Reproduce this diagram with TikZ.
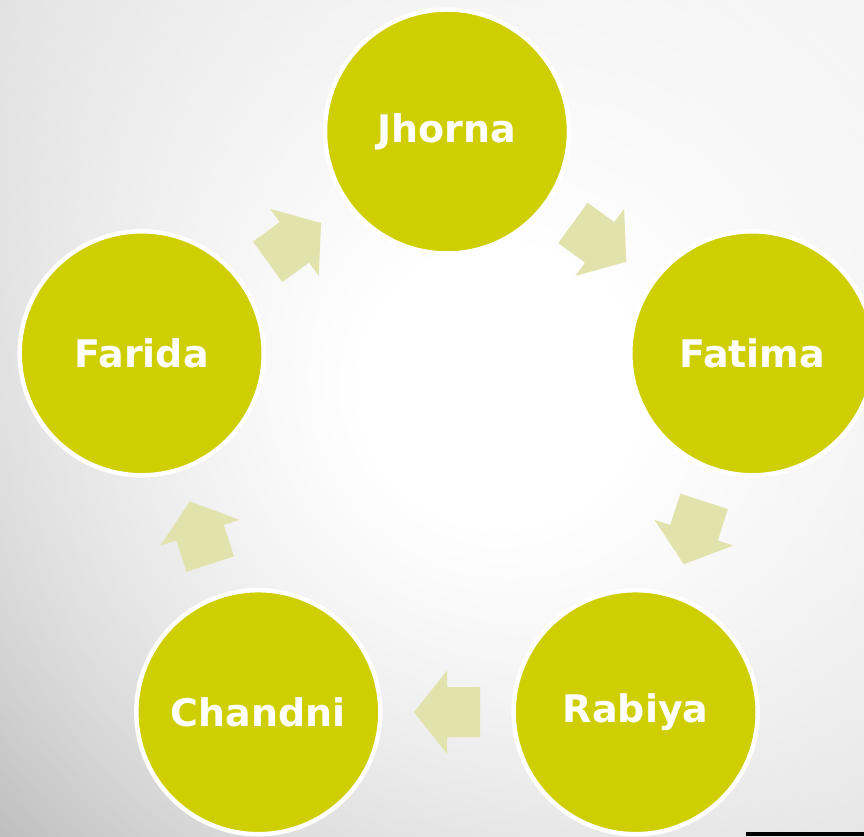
\documentclass[tikz,border=0pt]{standalone}
\usepackage{xcolor}
\usepackage{fontspec}
\usepackage{tikz}
\usetikzlibrary{fadings}
\newfontfamily\sirkelfont{DejaVu Sans}
\definecolor{olivengul}{RGB}{206,206,0}
\definecolor{pilgul}{RGB}{226,226,172}
\definecolor{bgA}{RGB}{248,248,248}
\definecolor{bgB}{RGB}{222,222,222}
\definecolor{bgC}{RGB}{200,200,200}
\definecolor{bgD}{RGB}{166,166,166}
\pgfdeclarehorizontalshading{skraa}{100bp}{color(0bp)=(bgD); color(26bp)=(bgC); color(50bp)=(bgB); color(100bp)=(bgA)}
\pgfdeclareradialshading{glodskygge}{\pgfpoint{0bp}{0bp}}{color(0bp)=(pgftransparent!0); color(5bp)=(pgftransparent!0); color(25bp)=(pgftransparent!100); color(50bp)=(pgftransparent!100)}
\pgfdeclarefading{glod}{\pgfuseshading{glodskygge}}

\begin{document}
\begin{tikzpicture}[x=1pt, y=1pt,
	main/.style={draw=white, line width=4.5pt, circle, fill=olivengul, minimum size=244pt, inner sep=0pt, text=white, font=\sirkelfont\bfseries\fontsize{38}{40}\selectfont},
	pil/.style={fill=pilgul}]
	%Bakgrunnen her
	\clip (0,0) rectangle (864,836);
	\path[shading=skraa, shading angle=45] (0,0) rectangle (864,836);
	\fill[white, path fading=glod] (500,450) circle (720);
	\fill[black] (746,0) rectangle (864,4);

	\begin{scope}[shift={(447,383.5)}]
		%Nodene går her
		\node[main] (1) at (90:321) {Jhorna};
		\node[main] (2) at (18:321) {Fatima};
		\node[main] (3) at (-54:321) {Rabiya};
		\node[main] (4) at (-126:321) {Chandni};
		\node[main] (5) at (162:321) {Farida};

		%Pilene mellom nodene
		\foreach \v in {54,-18,-90,-162,126}
			\fill[pil, shift={(\v:259.7)}, rotate=\v-90] (-33,-25) -- (0,-25) -- (0,-41.5) -- (33,0) -- (0,41.5) -- (0,25) -- (-33,25) -- cycle;
	\end{scope}
\end{tikzpicture}
\end{document}
